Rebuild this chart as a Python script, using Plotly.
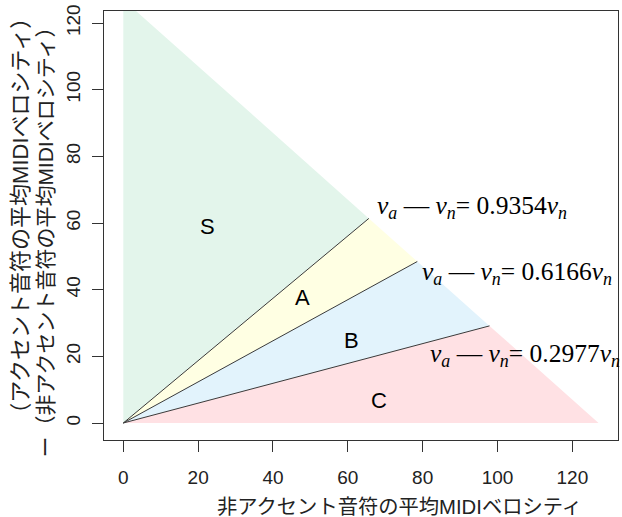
import plotly.graph_objects as go

# datos: pendientes de las rectas frontera y velocidad máxima MIDI
VMAX = 127
slopes = [0.9354, 0.6166, 0.2977]
regions = ["S", "A", "B", "C"]
region_colors = ["#E3F5EB", "#FFFFE3", "#E2F3FC", "#FFE1E4"]
ticks = [0, 20, 40, 60, 80, 100, 120]

# posiciones de etiquetas (x, y en unidades de datos)
region_label_pos = [(22.6, 59), (47.8, 37.8), (61, 24.9), (68.3, 6.9)]
eq_label_pos = [(67.3, 64.8), (79.2, 45.0), (81.4, 20.4)]

JP = "Liberation Sans, Noto Sans CJK JP, sans-serif"
ARIAL = "Liberation Sans, Arial, sans-serif"
TIMES = "Liberation Serif, Times New Roman, serif"


def hit(k):
    # intersección de y = k*x con x + y = VMAX
    x = VMAX / (1 + k)
    return x, k * x


fig = go.Figure()

# polígonos de cada región (borde = recta frontera)
ends = [(0, VMAX)] + [hit(k) for k in slopes] + [(VMAX, 0)]
for i, name in enumerate(regions):
    (x1, y1), (x2, y2) = ends[i], ends[i + 1]
    fig.add_trace(go.Scatter(
        x=[0, x1, x2, 0], y=[0, y1, y2, 0],
        mode="lines", fill="toself", fillcolor=region_colors[i],
        line=dict(width=0), hoverinfo="skip", showlegend=False
    ))

# rectas frontera
for k in slopes:
    xe, ye = hit(k)
    fig.add_trace(go.Scatter(
        x=[0, xe], y=[0, ye], mode="lines",
        line=dict(color="#3a3a3a", width=1), showlegend=False
    ))

for name, (x, y) in zip(regions, region_label_pos):
    fig.add_annotation(x=x, y=y, text=name, showarrow=False,
                       font=dict(family=ARIAL, size=22, color="black"))

for k, (x, y) in zip(slopes, eq_label_pos):
    txt = (f"<i>v</i><sub><i>a</i></sub> — <i>v</i><sub><i>n</i></sub>"
           f"= {k:.4f}<i>v</i><sub><i>n</i></sub>")
    fig.add_annotation(x=x, y=y, text=txt, showarrow=False, xanchor="left",
                       font=dict(family=TIMES, size=25.5, color="black"))

# títulos de ejes como anotaciones (posición fija en px)
fig.add_annotation(xref="paper", yref="paper", x=-0.163, y=0.523,
                   xanchor="center", yanchor="middle",
                   text="（アクセント音符の平均MIDIベロシティ）", textangle=-90,
                   showarrow=False, font=dict(family=JP, size=22, color="#222"))
fig.add_annotation(xref="paper", yref="paper", x=-0.113, y=0.474,
                   xanchor="center", yanchor="middle",
                   text="ー（非アクセント音符の平均MIDIベロシティ）", textangle=-90,
                   showarrow=False, font=dict(family=JP, size=21, color="#222"))
fig.add_annotation(xref="paper", yref="paper", x=0.574, y=-0.156,
                   xanchor="center", yanchor="middle",
                   text="非アクセント音符の平均MIDIベロシティ",
                   showarrow=False, font=dict(family=JP, size=20.3, color="#222"))

axis_common = dict(
    showgrid=False, zeroline=False, showline=True, mirror=True,
    linecolor="#333", linewidth=1.3, ticks="outside", ticklen=11,
    tickcolor="#333", tickwidth=1.3, tickvals=ticks, automargin=False,
    ticklabeloverflow="allow",
    tickfont=dict(family=ARIAL, size=19, color="#222"),
)

fig.update_layout(
    width=622, height=517,
    margin=dict(l=104, r=4, t=11, b=77),
    plot_bgcolor="white", paper_bgcolor="white",
    xaxis=dict(range=[-5.16, 132.2], ticklabelstandoff=9, **axis_common),
    yaxis=dict(range=[-5.1, 123.6], tickangle=-90, ticklabelstandoff=4,
               **axis_common),
)

# quitar el margen por defecto del <body> para que la figura ocupe la ventana
fig.write_html("out.html", config={"displayModeBar": False},
               post_script="document.body.style.margin='0';")
